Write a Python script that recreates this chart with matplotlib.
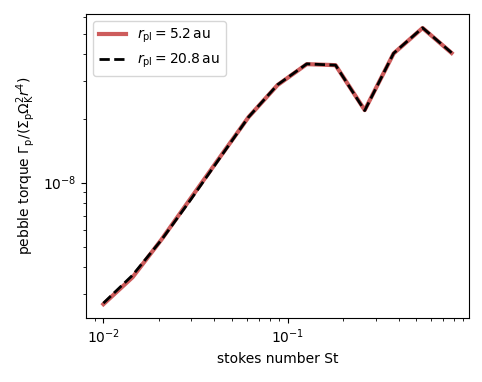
import matplotlib
matplotlib.use("Agg")
import matplotlib.pyplot as plt

stokes = [0.01, 0.0144, 0.0207, 0.0297, 0.0427, 0.0613, 0.0881,
          0.127, 0.182, 0.262, 0.376, 0.540, 0.776]
torque_5au = [2.69e-9, 3.60e-9, 5.42e-9, 8.42e-9, 1.31e-8, 2.03e-8, 2.87e-8,
              3.60e-8, 3.56e-8, 2.19e-8, 4.04e-8, 5.32e-8, 4.06e-8]
torque_21au = [2.72e-9, 3.68e-9, 5.40e-9, 8.30e-9, 1.30e-8, 2.03e-8, 2.88e-8,
               3.61e-8, 3.56e-8, 2.18e-8, 4.05e-8, 5.33e-8, 4.07e-8]
labels = [r"$r_\mathrm{pl} = 5.2\,\mathrm{au}$", r"$r_\mathrm{pl} = 20.8\,\mathrm{au}$"]

fig = plt.figure(figsize=(4.82, 3.82), dpi=100)
ax = fig.add_axes([86/482, 1 - 318/382, (469 - 86)/482, (318 - 14)/382])
ax.plot(stokes, torque_5au, color="#cd5c5c", lw=3, label=labels[0])
ax.plot(stokes, torque_21au, color="black", lw=2, ls="--", label=labels[1])
ax.set_xscale("log")
ax.set_yscale("log")
ax.set_xlabel("stokes number St", fontsize=10)
ax.set_ylabel(r"pebble torque $\Gamma_\mathrm{p}/(\Sigma_\mathrm{p}\Omega_\mathrm{K}^2 r^4)$", fontsize=10)
ax.tick_params(labelsize=10)
ax.legend(loc="upper left", fontsize=10)
fig.savefig("out.png", dpi=100)
